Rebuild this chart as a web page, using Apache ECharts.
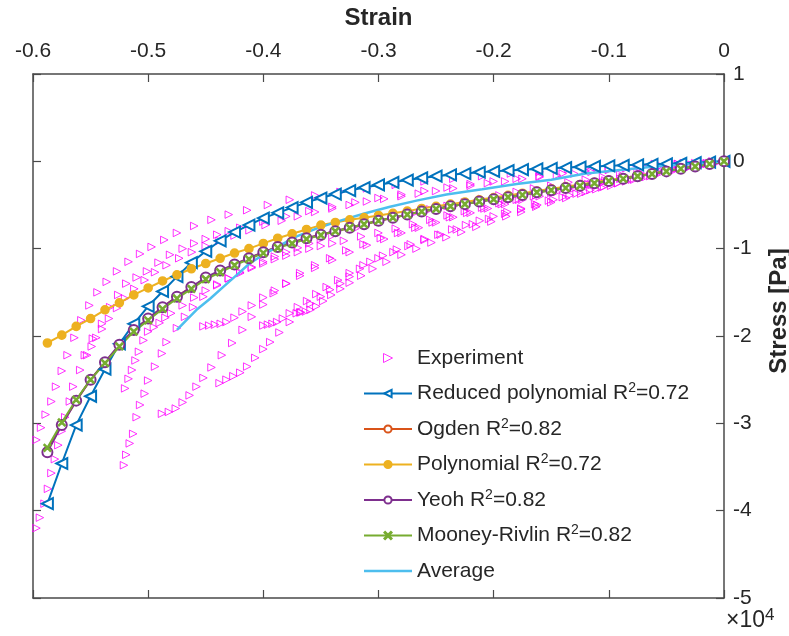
<!DOCTYPE html>
<html><head><meta charset="utf-8">
<script src="https://cdn.jsdelivr.net/npm/echarts@6/dist/echarts.min.js"></script>
<style>html,body{margin:0;padding:0;background:#fff}#c{width:789px;height:636px}</style>
</head><body><div id="c"></div>
<script>
// ---- data (stress in units of 1e4 Pa) ----
const exp1 = [[-0.597,-3.19],[-0.593,-3.05],[-0.589,-2.90],[-0.584,-2.75],[-0.580,-2.58],[-0.575,-2.40],[-0.570,-2.22],[-0.564,-2.02],[-0.558,-1.82],[-0.551,-1.65],[-0.544,-1.50],[-0.536,-1.38],[-0.527,-1.26],[-0.517,-1.15],[-0.507,-1.06],[-0.497,-0.98],[-0.486,-0.90],[-0.475,-0.82],[-0.460,-0.74],[-0.445,-0.67],[-0.430,-0.61],[-0.414,-0.56],[-0.396,-0.50],[-0.377,-0.44],[-0.355,-0.39],[-0.333,-0.35],[-0.31,-0.31],[-0.285,-0.27],[-0.26,-0.23],[-0.235,-0.20],[-0.21,-0.17],[-0.185,-0.14],[-0.16,-0.12],[-0.135,-0.09],[-0.11,-0.07],[-0.085,-0.05],[-0.06,-0.03],[-0.035,-0.02],[-0.01,0]];
const exp2 = [[-0.597,-4.20],[-0.594,-4.08],[-0.590,-3.92],[-0.587,-3.75],[-0.584,-3.57],[-0.581,-3.41],[-0.578,-3.25],[-0.575,-3.09],[-0.572,-2.93],[-0.568,-2.75],[-0.565,-2.58],[-0.559,-2.39],[-0.555,-2.22],[-0.548,-2.03],[-0.540,-1.86],[-0.533,-1.67],[-0.526,-1.53],[-0.519,-1.40],[-0.510,-1.33],[-0.501,-1.26],[-0.491,-1.16],[-0.481,-1.07],[-0.470,-1.00],[-0.46,-0.94],[-0.45,-0.89],[-0.44,-0.84],[-0.43,-0.80],[-0.42,-0.76],[-0.40,-0.69],[-0.38,-0.63],[-0.36,-0.57],[-0.34,-0.52],[-0.32,-0.47],[-0.30,-0.42],[-0.28,-0.38],[-0.26,-0.34],[-0.24,-0.30],[-0.22,-0.26],[-0.20,-0.23],[-0.18,-0.20],[-0.16,-0.17],[-0.14,-0.14],[-0.12,-0.11],[-0.10,-0.09],[-0.08,-0.07],[-0.06,-0.05],[-0.04,-0.03],[-0.02,-0.01],[0,0]];
const exp3 = [[-0.521,-3.48],[-0.519,-3.36],[-0.516,-3.23],[-0.513,-3.12],[-0.510,-2.93],[-0.507,-2.79],[-0.503,-2.66],[-0.500,-2.51],[-0.494,-2.35],[-0.488,-2.20],[-0.484,-2.07],[-0.475,-1.91],[-0.468,-1.78],[-0.461,-1.67],[-0.452,-1.55],[-0.44,-1.42],[-0.43,-1.34],[-0.42,-1.27],[-0.41,-1.21],[-0.40,-1.15],[-0.39,-1.09],[-0.38,-1.04],[-0.37,-0.99],[-0.36,-0.94],[-0.35,-0.89],[-0.34,-0.85],[-0.32,-0.77],[-0.30,-0.69],[-0.285,-0.64],[-0.27,-0.60],[-0.255,-0.55],[-0.24,-0.51],[-0.225,-0.47],[-0.21,-0.43],[-0.195,-0.39],[-0.18,-0.35],[-0.165,-0.31],[-0.15,-0.28],[-0.135,-0.24],[-0.12,-0.21],[-0.105,-0.18],[-0.09,-0.15],[-0.075,-0.12],[-0.06,-0.09],[-0.045,-0.06],[-0.03,-0.04],[-0.015,-0.02],[0,0]];
const exp4 = [[-0.520,-2.60],[-0.517,-2.49],[-0.514,-2.39],[-0.511,-2.28],[-0.508,-2.18],[-0.504,-2.05],[-0.500,-1.95],[-0.495,-1.90],[-0.49,-1.85],[-0.485,-1.79],[-0.48,-1.74],[-0.47,-1.65],[-0.46,-1.56],[-0.45,-1.48],[-0.44,-1.41],[-0.43,-1.34],[-0.42,-1.28],[-0.41,-1.22],[-0.40,-1.17],[-0.39,-1.12],[-0.38,-1.08],[-0.37,-1.04],[-0.36,-1.00],[-0.35,-0.97],[-0.34,-0.94],[-0.33,-0.91],[-0.315,-0.86],[-0.30,-0.82],[-0.285,-0.77],[-0.27,-0.72],[-0.255,-0.67],[-0.24,-0.62],[-0.225,-0.57],[-0.21,-0.53],[-0.195,-0.48],[-0.18,-0.44],[-0.165,-0.40],[-0.15,-0.36],[-0.135,-0.32],[-0.12,-0.28],[-0.105,-0.24],[-0.09,-0.20],[-0.075,-0.17],[-0.06,-0.13],[-0.045,-0.10],[-0.03,-0.06],[-0.015,-0.03]];
const exp5 = [[-0.488,-2.89],[-0.482,-2.87],[-0.476,-2.83],[-0.470,-2.76],[-0.464,-2.68],[-0.458,-2.58],[-0.452,-2.48],[-0.445,-2.36],[-0.436,-2.22],[-0.427,-2.08],[-0.418,-1.93],[-0.410,-1.78],[-0.400,-1.64],[-0.391,-1.51],[-0.380,-1.40],[-0.368,-1.28],[-0.355,-1.19],[-0.342,-1.11],[-0.328,-1.02],[-0.313,-0.95],[-0.298,-0.88],[-0.283,-0.82],[-0.268,-0.76],[-0.253,-0.70],[-0.238,-0.64],[-0.223,-0.59],[-0.208,-0.54],[-0.193,-0.49],[-0.178,-0.44],[-0.163,-0.39],[-0.148,-0.35],[-0.133,-0.30],[-0.118,-0.26],[-0.103,-0.22],[-0.088,-0.18],[-0.073,-0.14],[-0.058,-0.11],[-0.043,-0.07],[-0.028,-0.04],[-0.013,-0.02]];
const exp6 = [[-0.438,-2.54],[-0.432,-2.50],[-0.426,-2.46],[-0.420,-2.42],[-0.414,-2.35],[-0.407,-2.25],[-0.400,-2.15],[-0.394,-2.07],[-0.386,-1.96],[-0.377,-1.84],[-0.368,-1.73],[-0.359,-1.63],[-0.350,-1.55],[-0.342,-1.47],[-0.333,-1.40],[-0.325,-1.32],[-0.316,-1.23],[-0.307,-1.15],[-0.296,-1.08],[-0.284,-1.01],[-0.272,-0.95],[-0.26,-0.89],[-0.248,-0.84],[-0.236,-0.78],[-0.224,-0.73],[-0.212,-0.68],[-0.2,-0.63],[-0.188,-0.58],[-0.176,-0.54],[-0.164,-0.49],[-0.152,-0.45],[-0.14,-0.41],[-0.128,-0.37],[-0.116,-0.33],[-0.104,-0.29],[-0.092,-0.25],[-0.08,-0.21],[-0.068,-0.18],[-0.056,-0.14],[-0.044,-0.11],[-0.032,-0.08],[-0.02,-0.05],[-0.008,-0.02]];
const exp7 = [[-0.452,-1.89],[-0.447,-1.88],[-0.442,-1.87],[-0.437,-1.86],[-0.432,-1.84],[-0.425,-1.79],[-0.418,-1.72],[-0.410,-1.65],[-0.400,-1.56],[-0.390,-1.48],[-0.380,-1.40],[-0.368,-1.31],[-0.355,-1.22],[-0.340,-1.13],[-0.325,-1.04],[-0.31,-0.96],[-0.295,-0.89],[-0.28,-0.82],[-0.265,-0.76],[-0.25,-0.70],[-0.235,-0.64],[-0.22,-0.59],[-0.205,-0.54],[-0.19,-0.49],[-0.175,-0.44],[-0.16,-0.40],[-0.145,-0.35],[-0.13,-0.31],[-0.115,-0.27],[-0.1,-0.23],[-0.085,-0.19],[-0.07,-0.15],[-0.055,-0.11],[-0.04,-0.08],[-0.025,-0.05],[-0.01,-0.02]];
const exp8 = [[-0.400,-1.88],[-0.396,-1.87],[-0.392,-1.86],[-0.388,-1.84],[-0.383,-1.80],[-0.377,-1.74],[-0.370,-1.67],[-0.362,-1.60],[-0.354,-1.52],[-0.345,-1.44],[-0.335,-1.36],[-0.325,-1.28],[-0.313,-1.19],[-0.30,-1.11],[-0.287,-1.04],[-0.274,-0.97],[-0.26,-0.90],[-0.246,-0.84],[-0.232,-0.78],[-0.218,-0.72],[-0.204,-0.66],[-0.19,-0.60],[-0.176,-0.55],[-0.162,-0.50],[-0.148,-0.44],[-0.134,-0.39],[-0.12,-0.35],[-0.106,-0.30],[-0.092,-0.25],[-0.078,-0.21],[-0.064,-0.17],[-0.05,-0.12],[-0.036,-0.08],[-0.022,-0.05],[-0.008,-0.02]];
const exp9 = [[-0.371,-1.74],[-0.367,-1.73],[-0.363,-1.72],[-0.359,-1.70],[-0.354,-1.66],[-0.348,-1.60],[-0.341,-1.53],[-0.333,-1.46],[-0.325,-1.39],[-0.315,-1.31],[-0.305,-1.23],[-0.293,-1.15],[-0.28,-1.07],[-0.267,-1.00],[-0.254,-0.93],[-0.241,-0.87],[-0.228,-0.81],[-0.215,-0.75],[-0.202,-0.69],[-0.189,-0.63],[-0.176,-0.58],[-0.163,-0.52],[-0.15,-0.47],[-0.137,-0.42],[-0.124,-0.37],[-0.111,-0.32],[-0.098,-0.28],[-0.085,-0.23],[-0.072,-0.19],[-0.059,-0.15],[-0.046,-0.11],[-0.033,-0.08],[-0.02,-0.05],[-0.007,-0.02]];
const exp10 = [[-0.553,-2.22],[-0.549,-2.12],[-0.545,-2.02],[-0.540,-1.92],[-0.534,-1.80],[-0.527,-1.68],[-0.520,-1.57],[-0.512,-1.46],[-0.503,-1.36],[-0.494,-1.27],[-0.484,-1.19],[-0.473,-1.11],[-0.462,-1.04],[-0.450,-0.97],[-0.438,-0.91],[-0.425,-0.85],[-0.412,-0.79],[-0.398,-0.73],[-0.384,-0.68],[-0.37,-0.63],[-0.355,-0.58],[-0.34,-0.54],[-0.325,-0.50],[-0.31,-0.46],[-0.295,-0.43],[-0.28,-0.40],[-0.265,-0.37],[-0.25,-0.34],[-0.235,-0.31],[-0.22,-0.28],[-0.205,-0.25],[-0.19,-0.23],[-0.175,-0.20],[-0.16,-0.18],[-0.145,-0.16],[-0.13,-0.14],[-0.115,-0.12],[-0.1,-0.10],[-0.085,-0.08],[-0.07,-0.06],[-0.055,-0.05],[-0.04,-0.03],[-0.025,-0.02]];

const fitStrain = [-0.5875,-0.575,-0.5625,-0.55,-0.5375,-0.525,-0.5125,-0.5,-0.4875,-0.475,-0.4625,-0.45,-0.4375,-0.425,-0.4125,-0.4,-0.3875,-0.375,-0.3625,-0.35,-0.3375,-0.325,-0.3125,-0.3,-0.2875,-0.275,-0.2625,-0.25,-0.2375,-0.225,-0.2125,-0.2,-0.1875,-0.175,-0.1625,-0.15,-0.1375,-0.125,-0.1125,-0.1,-0.0875,-0.075,-0.0625,-0.05,-0.0375,-0.025,-0.0125,0];
const reducedPoly = [-3.92,-3.46,-3.02,-2.69,-2.38,-2.09,-1.86,-1.66,-1.49,-1.32,-1.16,-1.03,-0.91,-0.81,-0.73,-0.65,-0.59,-0.53,-0.47,-0.42,-0.375,-0.335,-0.30,-0.27,-0.24,-0.215,-0.19,-0.17,-0.155,-0.14,-0.125,-0.115,-0.105,-0.095,-0.087,-0.08,-0.072,-0.065,-0.058,-0.052,-0.046,-0.04,-0.034,-0.028,-0.022,-0.015,-0.008,0];
const ogden = [-3.31,-3.01,-2.74,-2.50,-2.30,-2.11,-1.94,-1.80,-1.67,-1.55,-1.44,-1.34,-1.26,-1.18,-1.11,-1.04,-0.98,-0.93,-0.88,-0.84,-0.80,-0.76,-0.72,-0.68,-0.645,-0.61,-0.575,-0.545,-0.515,-0.49,-0.46,-0.435,-0.41,-0.385,-0.355,-0.33,-0.305,-0.28,-0.25,-0.225,-0.2,-0.17,-0.145,-0.115,-0.085,-0.058,-0.03,0];
const polynomial = [-2.08,-1.99,-1.89,-1.80,-1.70,-1.62,-1.53,-1.45,-1.37,-1.30,-1.23,-1.17,-1.11,-1.05,-1.00,-0.94,-0.88,-0.83,-0.78,-0.73,-0.70,-0.67,-0.645,-0.62,-0.595,-0.57,-0.54,-0.515,-0.49,-0.465,-0.44,-0.415,-0.39,-0.365,-0.34,-0.315,-0.29,-0.265,-0.24,-0.215,-0.19,-0.165,-0.14,-0.11,-0.08,-0.055,-0.028,0];
const yeoh = [-3.33,-3.02,-2.74,-2.50,-2.30,-2.10,-1.93,-1.80,-1.67,-1.55,-1.44,-1.33,-1.25,-1.18,-1.11,-1.04,-0.98,-0.93,-0.88,-0.84,-0.80,-0.76,-0.72,-0.68,-0.645,-0.61,-0.575,-0.545,-0.515,-0.49,-0.46,-0.435,-0.41,-0.385,-0.355,-0.33,-0.305,-0.28,-0.25,-0.225,-0.2,-0.17,-0.145,-0.115,-0.085,-0.058,-0.03,0];
const mooney = [-3.28,-2.99,-2.73,-2.50,-2.31,-2.12,-1.95,-1.82,-1.69,-1.57,-1.46,-1.35,-1.27,-1.19,-1.12,-1.05,-0.99,-0.94,-0.89,-0.845,-0.80,-0.76,-0.72,-0.68,-0.645,-0.61,-0.575,-0.545,-0.515,-0.49,-0.46,-0.435,-0.41,-0.385,-0.355,-0.33,-0.305,-0.28,-0.25,-0.225,-0.2,-0.17,-0.145,-0.115,-0.085,-0.058,-0.03,0];
const avgStrain = [-0.475,-0.467,-0.458,-0.446,-0.435,-0.423,-0.412,-0.4,-0.388,-0.371,-0.354,-0.336,-0.313,-0.29,-0.267,-0.241,-0.21,-0.18,-0.15,-0.12,-0.09,-0.06,-0.03,0];
const avgStress = [-1.93,-1.82,-1.70,-1.57,-1.44,-1.30,-1.17,-1.07,-0.98,-0.86,-0.77,-0.69,-0.60,-0.52,-0.45,-0.38,-0.32,-0.26,-0.21,-0.14,-0.10,-0.06,-0.03,0];

const seriesNames = ['Experiment','Reduced polynomial R^2=0.72','Ogden R^2=0.82','Polynomial R^2=0.72','Yeoh R^2=0.82','Mooney-Rivlin R^2=0.82','Average'];

// ---- build ----
const FONT = '"Liberation Sans", Arial, Helvetica, sans-serif';
const TXT = '#262626', AX = '#4a4a4a';
const zip = (xs, ys) => xs.map((x, i) => [x, ys[i]]);
const experiment = [exp1, exp2, exp3, exp4, exp5, exp6, exp7, exp8, exp9, exp10].flat();
const xMark = 'path://M0,1L1,0L5,4L9,0L10,1L6,5L10,9L9,10L5,6L1,10L0,9L4,5Z';

function fit(name, ys, color, symbol, size, extra) {
  return Object.assign({
    name, type: 'line', data: zip(fitStrain, ys), symbol, symbolSize: size,
    lineStyle: { width: 2, color }, itemStyle: { color, borderColor: color, borderWidth: 1.6 },
    emphasis: { disabled: true }, animation: false
  }, extra || {});
}

const axisCommon = {
  axisLine: { show: true, onZero: false, lineStyle: { color: AX, width: 1.5 } },
  axisTick: { show: true, inside: true, length: 8, lineStyle: { color: AX, width: 1.2 } },
  splitLine: { show: false }
};

const legendData = seriesNames.map((n, i) => {
  if (i === 0) return { name: n, icon: 'path://M0,0L10,5L0,10Z', itemStyle: { color: 'rgba(255,255,255,0)', borderColor: '#FF00FF', borderWidth: 1 } };
  if (i === 6) return { name: n, icon: 'path://M0,0H60V3H0Z', itemStyle: { color: '#4DBEEE', borderWidth: 0 } };
  return { name: n };
});

const chart = echarts.init(document.getElementById('c'), null, { renderer: 'canvas' });
chart.setOption({
  animation: false,
  backgroundColor: '#fff',
  textStyle: { fontFamily: FONT },
  grid: { left: 33, right: 65, top: 74, bottom: 38, containLabel: false, outerBoundsMode: 'none' },
  xAxis: [
    Object.assign({
      type: 'value', position: 'top', min: -0.6, max: 0, interval: 0.1,
      name: 'Strain', nameLocation: 'middle', nameGap: 44,
      nameTextStyle: { fontFamily: FONT, fontWeight: 'bold', fontSize: 24, color: TXT },
      axisLabel: { fontFamily: FONT, fontSize: 21, color: TXT, margin: 12, showMinLabel: true, showMaxLabel: true }
    }, axisCommon),
    Object.assign({
      type: 'value', position: 'bottom', min: -0.6, max: 0, interval: 0.1,
      axisLabel: { show: false }
    }, axisCommon)
  ],
  yAxis: [
    Object.assign({
      type: 'value', position: 'right', min: -5, max: 1, interval: 1,
      name: 'Stress [Pa]', nameLocation: 'middle', nameGap: 43, nameRotate: 90,
      nameTextStyle: { fontFamily: FONT, fontWeight: 'bold', fontSize: 24, color: TXT, padding: [0, 0, 0, 50] },
      axisLabel: { fontFamily: FONT, fontSize: 21, color: TXT, margin: 9, showMinLabel: true, showMaxLabel: true }
    }, axisCommon),
    Object.assign({
      type: 'value', position: 'left', min: -5, max: 1, interval: 1,
      axisLabel: { show: false }
    }, axisCommon)
  ],
  legend: {
    orient: 'vertical', left: 363, top: 346, padding: 0,
    itemWidth: 48, itemHeight: 9, itemGap: 11.5, symbolKeepAspect: true,
    data: legendData,
    formatter: n => n.replace('^2', '{sup|2}'),
    textStyle: {
      fontFamily: FONT, fontSize: 21, color: TXT, lineHeight: 24,
      rich: { sup: { fontFamily: FONT, fontSize: 14, color: TXT, padding: [0, 0, 10, 0] } }
    },
    selectedMode: false
  },
  graphic: [{
    type: 'text', left: 726, top: 607,
    style: { text: '×10{s|4}', font: '23px ' + FONT, fill: TXT,
      rich: { s: { fontSize: 17, fontFamily: FONT, fill: TXT, padding: [0, 0, 11, 0] } } }
  }],
  series: [
    { name: seriesNames[0], type: 'scatter', data: experiment, symbol: 'triangle', symbolRotate: -90, symbolSize: 7.5,
      itemStyle: { color: 'rgba(255,255,255,0)', borderColor: '#FF00FF', borderWidth: 1 }, emphasis: { disabled: true } },
    fit(seriesNames[1], reducedPoly, '#0072BD', 'emptyTriangle', 11, { symbolRotate: 90 }),
    fit(seriesNames[2], ogden, '#D95319', 'emptyCircle', 6),
    fit(seriesNames[3], polynomial, '#EDB120', 'circle', 8),
    fit(seriesNames[4], yeoh, '#7E2F8E', 'emptyCircle', 10),
    fit(seriesNames[5], mooney, '#77AC30', xMark, 7),
    { name: seriesNames[6], type: 'line', data: zip(avgStrain, avgStress), symbol: 'none', smooth: false,
      lineStyle: { width: 2.5, color: '#4DBEEE' }, itemStyle: { color: '#4DBEEE' }, emphasis: { disabled: true } }
  ]
});
</script></body></html>
